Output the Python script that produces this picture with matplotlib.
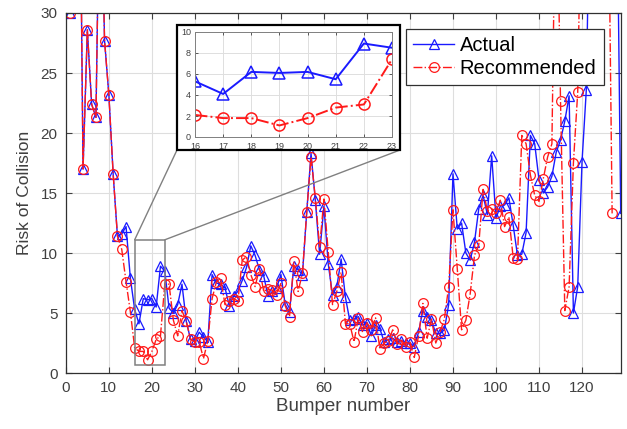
import matplotlib
matplotlib.use('Agg')
import matplotlib.pyplot as plt
from matplotlib.patches import Rectangle, ConnectionPatch
import numpy as np

plt.rcParams['font.family'] = ['Liberation Sans', 'DejaVu Sans']

# --- dati (valori > 30 escono dal grafico) ---
bumper = np.arange(1, 130)

actual = [30, 45, 53, 17.0, 28.6, 22.4, 21.3, 45, 27.7, 23.2,
          16.6, 11.4, 11.6, 12.2, 7.9, 5.3, 4.1, 6.2, 6.1, 6.2,
          5.5, 8.9, 8.5, 5.4, 5.0, 5.7, 7.4, 4.3, 2.8, 2.7,
          3.4, 3.0, 2.6, 8.2, 7.5, 7.4, 7.1, 5.6, 6.4, 6.8,
          7.7, 8.8, 10.6, 9.8, 8.6, 8.1, 6.4, 6.8, 7.1, 8.2,
          5.7, 5.1, 8.9, 8.6, 8.2, 13.4, 18.3, 14.4, 9.9, 13.9,
          9.1, 6.5, 7.2, 9.5, 6.3, 4.4, 4.5, 4.7, 4.0, 4.2,
          3.1, 4.0, 3.7, 2.6, 2.8, 2.9, 2.6, 2.7, 2.5, 2.5,
          2.2, 3.4, 5.2, 4.7, 4.4, 3.3, 3.3, 3.6, 5.7, 16.6,
          12.0, 12.5, 10.0, 9.4, 10.9, 13.7, 14.8, 13.2, 18.1, 12.9,
          13.9, 14.0, 14.6, 12.3, 9.8, 9.9, 11.7, 19.8, 19.1, 16.1,
          15.0, 15.5, 16.4, 18.4, 19.4, 21.0, 23.1, 5.0, 7.2, 17.6,
          23.6, 45, 45, 45, 45, 45, 45, 45, 13.3]

recommended = [30, 45, 53, 17.0, 28.6, 22.4, 21.3, 45, 27.7, 23.2,
               16.6, 11.4, 10.3, 7.6, 5.1, 2.1, 1.8, 1.8, 1.1, 1.8,
               2.8, 3.1, 7.4, 7.4, 4.4, 3.1, 5.2, 4.3, 2.8, 2.6,
               2.6, 1.2, 2.7, 6.2, 7.6, 7.9, 5.7, 6.0, 6.2, 6.0,
               9.4, 9.7, 8.2, 7.2, 8.7, 6.8, 7.0, 6.9, 6.5, 7.5,
               5.6, 4.7, 9.3, 6.8, 8.3, 13.4, 18.0, 14.6, 10.5, 14.5,
               10.1, 5.7, 6.8, 8.4, 4.1, 4.1, 2.6, 4.6, 3.4, 4.2,
               3.6, 4.6, 2.0, 2.5, 2.7, 3.6, 2.4, 2.8, 2.2, 2.6,
               1.3, 3.1, 5.8, 2.9, 4.5, 2.5, 3.4, 4.5, 7.2, 13.6,
               8.7, 3.6, 4.4, 6.6, 9.8, 10.7, 15.3, 13.5, 13.7, 13.3,
               14.4, 12.2, 13.0, 9.6, 9.5, 19.8, 19.1, 16.5, 14.8, 14.3,
               16.2, 18.0, 19.1, 45, 22.7, 5.2, 7.2, 17.5, 23.4, 45,
               45, 45, 45, 45, 45, 45, 13.3, np.nan, np.nan]

blu = '#1a1aff'
rosso = '#ff1a1a'
grigio_testo = '#404040'

fig = plt.figure(figsize=(6.27, 4.29), dpi=100)
ax = fig.add_axes([0.105, 0.1305, 0.885, 0.8392])

ax.plot(bumper, actual, '-', color=blu, lw=1, marker='^', mfc='none',
        ms=7, mew=0.9, label='Actual')
ax.plot(bumper, recommended, '-.', color=rosso, lw=1, marker='o', mfc='none',
        ms=7, mew=0.9, label='Recommended')

ax.set_xlim(0, 129)
ax.set_ylim(0, 30)
ax.set_xticks(np.arange(0, 121, 10))
ax.set_yticks(np.arange(0, 31, 5))
ax.grid(True, color='#dedede', lw=0.8)
ax.set_axisbelow(True)
ax.tick_params(direction='in', top=True, right=True, length=4, width=0.8,
               labelsize=11, colors=grigio_testo, pad=6)
for s in ax.spines.values():
    s.set_color('#303030')
    s.set_linewidth(0.9)
ax.set_xlabel('Bumper number', fontsize=13.5, color=grigio_testo, labelpad=2)
ax.set_ylabel('Risk of Collision', fontsize=12.5, color=grigio_testo, labelpad=6)

leg = ax.legend(loc='upper right', bbox_to_anchor=(0.969, 0.956), fontsize=14.5,
                fancybox=False, edgecolor='#303030', framealpha=1,
                borderpad=0.35, handlelength=2.0, handletextpad=0.3,
                labelspacing=0.2, borderaxespad=0)
leg.get_frame().set_linewidth(0.9)

# rettangolo di zoom sui bumper 16-23
ax.add_patch(Rectangle((16, 0.67), 7, 10.43, fill=False, edgecolor='#808080',
                       lw=1.1, zorder=4))

# cornice dell'ingrandimento
cornice = Rectangle((177 / 627, 1 - 150 / 429), 223 / 627, 125 / 429,
                    transform=fig.transFigure, facecolor='white',
                    edgecolor='black', lw=1.6, zorder=5)
fig.add_artist(cornice)

for xa, ya, xb in [(16, 11.1, 177), (23, 11.1, 400)]:
    con = ConnectionPatch(xyA=(xa, ya), coordsA='data', axesA=ax,
                          xyB=(xb / 627, 1 - 150 / 429), coordsB='figure fraction',
                          color='#808080', lw=1.0, zorder=4)
    fig.add_artist(con)

axin = fig.add_axes([195 / 627, 1 - 137 / 429, 197 / 627, 105 / 429])
axin.set_zorder(6)
axin.plot(bumper[15:23], actual[15:23], '-', color=blu, lw=1.4, marker='^',
          mfc='none', ms=8, mew=1.1)
axin.plot(bumper[15:23], recommended[15:23], '-.', color=rosso, lw=1.4,
          marker='o', mfc='none', ms=8, mew=1.1)
axin.set_xlim(16, 23)
axin.set_ylim(0, 10)
axin.set_xticks(np.arange(16, 24))
axin.set_yticks(np.arange(0, 11, 2))
axin.grid(True, color='#dedede', lw=0.7)
axin.set_axisbelow(True)
axin.tick_params(direction='in', top=True, right=True, length=2.5, width=0.6,
                 labelsize=6.5, colors=grigio_testo)
axin.tick_params(axis='x', pad=3.5)
axin.tick_params(axis='y', pad=3)
for s in axin.spines.values():
    s.set_color('#808080')
    s.set_linewidth(0.7)

fig.savefig('out.png', dpi=100)
